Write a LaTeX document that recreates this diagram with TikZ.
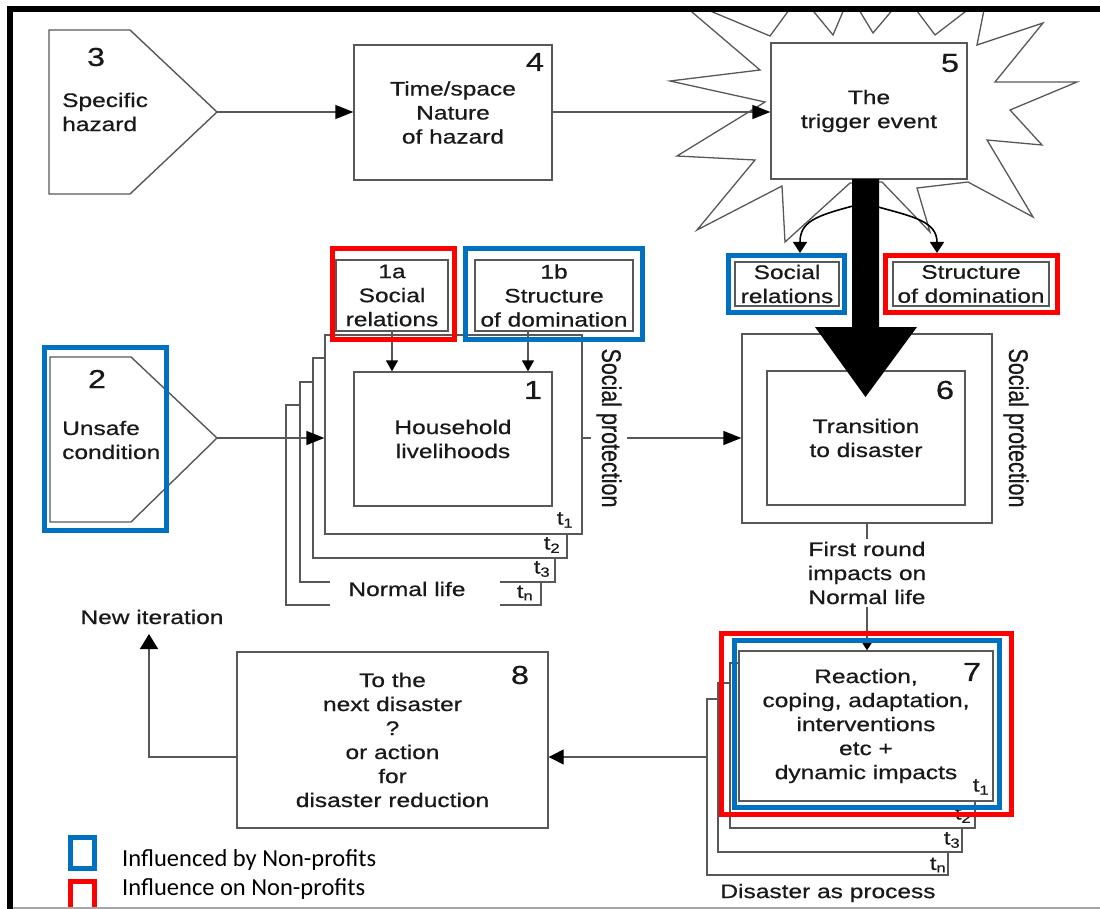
\documentclass[tikz,border=0pt]{standalone}
\usepackage{fontspec}
\setmainfont{Liberation Sans}[FakeStretch=1.25,FakeBold=0.6]
\newfontfamily\upright{Liberation Sans}[FakeBold=0.6]
\newfontfamily\legendfont{Carlito}
\usetikzlibrary{arrows.meta}
\definecolor{edge}{RGB}{88,88,88}
\definecolor{ink}{RGB}{25,25,25}
\definecolor{npblue}{RGB}{0,112,192}
\definecolor{npred}{RGB}{255,0,0}
\newcommand\lbl{\fontsize{19.6}{24}\selectfont}
\newcommand\numfont{\fontsize{26}{26}\selectfont}
\newcommand\tfont{\fontsize{19}{19}\selectfont}
\newcommand\sidefont{\upright\fontsize{21.5}{22}\selectfont}
\begin{document}
\begin{tikzpicture}[x=1pt,y=-1pt,
  frame/.style={draw=edge,line width=1.4pt},
  box/.style={draw=edge,line width=1.4pt,fill=white,inner sep=0pt,align=center,text=ink,font=\lbl},
  txt/.style={inner sep=0pt,align=center,text=ink,font=\lbl},
  num/.style={inner sep=0pt,text=ink,font=\numfont},
  tlab/.style={inner sep=0pt,text=ink,font=\tfont},
  conn/.style={draw=edge,line width=1.4pt},
  bigtip/.style={-{Triangle[length=18pt,width=14pt,color=black,fill=black]}},
  smalltip/.style={-{Triangle[length=11pt,width=12pt,color=black,fill=black]}},
  curvetip/.style={-{Triangle[length=11pt,width=14pt,color=black,fill=black]}},
  bluemark/.style={draw=npblue,line width=5pt},
  redmark/.style={draw=npred,line width=5pt},
  sidelabel/.style={rotate=-90,inner xsep=0pt,text=ink,font=\sidefont}]

\useasboundingbox (0,0) rectangle (1100,909);
\fill[white] (0,0) rectangle (1100,909);

% ---- starburst behind the trigger event ----
\begin{scope}
  \clip (13,12) rectangle (1100,909);
  \draw[edge,line width=1.3pt,fill=white,line join=miter]
    (670,81) -- (765,102) -- (677,156) -- (755,160) -- (697,230) -- (782,186)
    -- (785,242) -- (850,183) -- (882,182) -- (930,232) -- (917,188) -- (968,182)
    -- (1033,217) -- (987,140) -- (1042,145) -- (1010,110) -- (1077,82) -- (995,82)
    -- (1043,23) -- (977,45) -- (987,-5) -- (935,35) -- (905,-5) -- (873,33)
    -- (850,-5) -- (833,35) -- (800,-5) -- (770,36) -- (672,-5) -- (760,70) -- cycle;
\end{scope}

% ---- top row: hazard and trigger ----
\draw[frame,fill=white] (49,30) -- (130,30) -- (217,112) -- (130,194) -- (49,194) -- cycle;
\coordinate (b3tip) at (217,112);
\node[num] (n3) at (96,57) {3};
\node[txt,align=left,anchor=west] (t3) at (62,112) {Specific\\hazard};

\node[box,minimum width=198pt,minimum height=135pt] (b4) at (453,112.5)
  {\fontsize{19.6}{26}\selectfont Time/space\\Nature\\of hazard};
\node[num] (n4) at (535,62) {4};

\node[box,minimum width=196pt,minimum height=136pt] (b5) at (869,111) {The\\trigger event};
\node[num] (n5) at (950,63) {5};

\draw[conn,bigtip] (b3tip) -- (b3tip -| b4.west);
\draw[conn,bigtip] (b4.east |- b3tip) -- (b5.west |- b3tip);

% ---- household livelihoods stack ----
\draw[frame] (325,358) -- (313,358) -- (313,558) -- (567,558) -- (567,534);
\draw[frame] (313,382) -- (300,382) -- (300,582) -- (330,582);
\draw[frame] (500,582) -- (555,582) -- (555,558);
\draw[frame] (300,405) -- (286,405) -- (286,605) -- (330,605);
\draw[frame] (500,605) -- (541,605) -- (541,582);
\node[box,minimum width=257pt,minimum height=199pt] (s1) at (453.5,434.5) {};
\node[box,minimum width=198pt,minimum height=134pt] (b1) at (453,439) {Household\\livelihoods};
\node[num] (n1) at (533,390) {1};
\node[tlab] (s1t1) at (565,520) {t\textsubscript{1}};
\node[tlab] (s1t2) at (552,545) {t\textsubscript{2}};
\node[tlab] (s1t3) at (542,569) {t\textsubscript{3}};
\node[tlab] (s1tn) at (525,593) {t\textsubscript{n}};
\node[txt] (normal) at (407,589) {Normal life};

\node[box,minimum width=112pt,minimum height=71pt] (sr1) at (392,295.5) {1a\\Social\\relations};
\node[box,minimum width=158pt,minimum height=71pt] (sd1) at (554,295.5) {1b\\Structure\\of domination};
\draw[conn,smalltip] (sr1.south) -- (sr1.south |- b1.north);
\draw[conn,smalltip] ([xshift=-26pt]sd1.south) -- ([xshift=-26pt]sd1.south |- b1.north);

% ---- unsafe condition ----
\draw[frame,fill=white] (50,357) -- (131,357) -- (217,438) -- (131,522) -- (50,522) -- cycle;
\coordinate (b2tip) at (217,438);
\node[num] (n2) at (97,379) {2};
\node[txt,align=left,anchor=west] (t2) at (62,440) {Unsafe\\condition};
\draw[conn,bigtip] (b2tip) -- (b2tip -| s1.west);

% ---- transition to disaster ----
\node[box,minimum width=250pt,minimum height=189pt] (b6o) at (867,428.5) {};
\node[box,minimum width=198pt,minimum height=134pt] (b6) at (866,438) {Transition\\to disaster};
\node[num] (n6) at (945,390) {6};
\draw[conn,bigtip] (s1.east |- b2tip) -- (b6o.west |- b2tip);
\node[sidelabel,fill=white,inner ysep=5pt] (sp1) at (609,428) {\scalebox{1}[1.25]{Social protection}};
\node[sidelabel] (sp6) at (1016,428) {\scalebox{1}[1.25]{Social protection}};

% ---- social relations and domination after the trigger ----
\node[box,minimum width=104pt,minimum height=44pt] (sr2) at (787,284) {\fontsize{19.6}{22}\selectfont Social\\relations};
\node[box,minimum width=156pt,minimum height=44pt] (sd2) at (971,284) {\fontsize{19.6}{22}\selectfont Structure\\of domination};
\coordinate (shaftL) at (853,206);
\coordinate (shaftR) at (878,207);
\coordinate (srtip) at (800,253);
\coordinate (sdtip) at (937,253);
\draw[black,line width=1.6pt,curvetip] (shaftL) .. controls (815,216) and (800,222) .. (srtip);
\draw[black,line width=1.6pt,curvetip] (shaftR) .. controls (915,217) and (937,222) .. (sdtip);
\fill[black] (852,179) -- (879,179) -- (879,327) -- (917,327) -- (865.5,397)
  -- (815,327) -- (852,327) -- cycle;

% ---- reaction stack ----
\draw[frame] (739,663) -- (730,663) -- (730,828) -- (975,828) -- (975,801);
\draw[frame] (730,683) -- (718,683) -- (718,852) -- (962,852) -- (962,828);
\draw[frame] (718,699) -- (707,699) -- (707,875) -- (948,875) -- (948,852);
\coordinate (s7left) at (707,757);
\node[box,minimum width=254pt,minimum height=150pt] (b7) at (866,726)
  {\fontsize{19.6}{23.5}\selectfont Reaction,\\coping, adaptation,\\interventions\\etc +\\dynamic impacts};
\node[num] (n7) at (972,672) {7};
\node[tlab] (s7t1) at (981,787) {t\textsubscript{1}};
\node[tlab] (s7t2) at (963,815) {t\textsubscript{2}};
\node[tlab] (s7t3) at (952,840) {t\textsubscript{3}};
\node[tlab] (s7tn) at (938,865) {t\textsubscript{n}};
\node[txt] (process) at (828,893) {Disaster as process};

\draw[conn,-{Triangle[length=8pt,width=10pt,color=black,fill=black]}] (b6o.south) -- (b6o.south |- b7.north);
\node[txt,fill=white,inner xsep=2pt,inner ysep=3pt] (first) at (867,573) {First round\\impacts on\\Normal life};

% ---- next disaster ----
\node[box,minimum width=311pt,minimum height=176pt] (b8) at (392.5,740)
  {\fontsize{19.6}{23.4}\selectfont To the\\next disaster\\?\\or action\\for\\disaster reduction};
\node[num] (n8) at (520,675) {8};
\draw[conn,-{Triangle[length=15pt,width=15pt,color=black,fill=black]}] (s7left) -- (s7left -| b8.east);
\coordinate (newit) at (149,634);
\draw[conn,-{Triangle[length=15pt,width=18pt,color=black,fill=black]}] (b8.west |- s7left) -| (newit);
\node[txt] (newlbl) at (152,617) {New iteration};

% ---- non-profit markers ----
\draw[redmark] (332.5,248.5) rectangle (454.5,339.5);
\draw[bluemark] (465.5,248.5) rectangle (642.5,339.5);
\draw[bluemark] (44.5,347.5) rectangle (166.5,530.5);
\draw[bluemark] (728.5,255.5) rectangle (844.5,312.5);
\draw[redmark] (885.5,255.5) rectangle (1057.5,312.5);
\draw[redmark] (721.5,633.5) rectangle (1011.5,814.5);
\draw[bluemark] (734.5,640.5) rectangle (999.5,807.5);

% ---- legend ----
\draw[bluemark] (70.5,837.5) rectangle (94.5,868.5);
\begin{scope}
  \clip (0,0) rectangle (1100,909);
  \draw[redmark] (70.5,881.5) rectangle (94.5,915);
\end{scope}
\node[anchor=west,inner sep=0pt,text=black,font=\legendfont\fontsize{24.5}{26}\selectfont] (lg1) at (122,860) {Influenced by Non-profits};
\node[anchor=west,inner sep=0pt,text=black,font=\legendfont\fontsize{24.5}{26}\selectfont] (lg2) at (122,889) {Influence on Non-profits};

% ---- outer frame: black bars on the left and top, thin rule below ----
\fill[white] (1092,12) rectangle (1100,909);
\draw[gray!70,line width=1.5pt] (13,908) -- (1100,908);
\fill[black] (7,6) rectangle (13,909);
\fill[black] (7,6) rectangle (1100,12);
\end{tikzpicture}
\end{document}
